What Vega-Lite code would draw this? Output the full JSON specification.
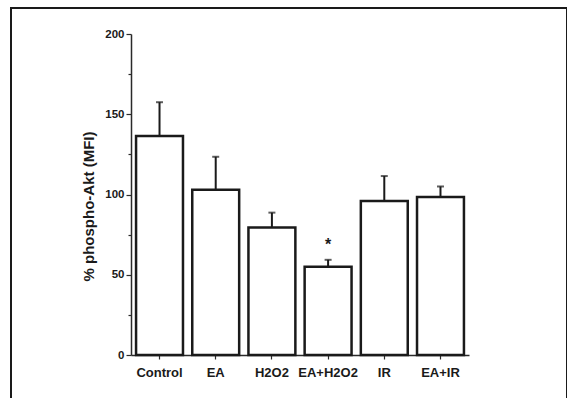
{
  "$schema": "https://vega.github.io/schema/vega-lite/v6.json",
  "autosize": {"type": "none"},
  "padding": {"left": 11, "top": 8, "right": 0, "bottom": -5},
  "width": 556,
  "height": 395,
  "background": "white",
  "config": {
    "view": {"stroke": "#1a1a1a", "strokeWidth": 2},
    "font": "Liberation Sans",
    "axis": {
      "grid": false,
      "domainColor": "#2a2a2a",
      "domainWidth": 1.5,
      "tickColor": "#2a2a2a",
      "tickWidth": 1.2,
      "labelColor": "#1a1a1a",
      "titleColor": "#1a1a1a",
      "labelFont": "Liberation Sans",
      "titleFont": "Liberation Sans",
      "labelFontWeight": "bold",
      "titleFontWeight": "bold"
    }
  },
  "data": {
    "values": [
      {"group": "Control", "value": 136.5, "upper": 157.5, "sig": ""},
      {"group": "EA", "value": 103, "upper": 123.5, "sig": ""},
      {"group": "H2O2", "value": 79.5, "upper": 88.7, "sig": ""},
      {"group": "EA+H2O2", "value": 55, "upper": 59.3, "sig": "*"},
      {"group": "IR", "value": 96, "upper": 111.5, "sig": ""},
      {"group": "EA+IR", "value": 98.5, "upper": 105, "sig": ""}
    ]
  },
  "encoding": {
    "x": {
      "field": "group",
      "type": "nominal",
      "sort": ["Control", "EA", "H2O2", "EA+H2O2", "IR", "EA+IR"],
      "scale": {"range": [120, 458], "paddingInner": 0.165, "paddingOuter": 0.09},
      "axis": {
        "orient": "bottom",
        "offset": -48,
        "title": null,
        "labelAngle": 0,
        "labelFontSize": 13,
        "tickSize": 4,
        "labelPadding": 7
      }
    }
  },
  "layer": [
    {
      "mark": {"type": "rule", "strokeWidth": 2, "color": "#1a1a1a"},
      "encoding": {
        "y": {
          "field": "value",
          "type": "quantitative",
          "scale": {"domain": [0, 200], "range": [347, 26], "nice": false},
          "axis": {
            "orient": "left",
            "offset": -120,
            "values": [25, 75, 125, 175],
            "labels": false,
            "domain": false,
            "tickSize": 3,
            "title": null
          }
        },
        "y2": {"field": "upper"}
      }
    },
    {
      "mark": {"type": "tick", "thickness": 2, "size": 7, "color": "#1a1a1a"},
      "encoding": {
        "y": {"field": "upper", "type": "quantitative", "axis": null}
      }
    },
    {
      "mark": {"type": "bar", "fill": "white", "stroke": "#1a1a1a", "strokeWidth": 2.5},
      "encoding": {
        "y": {
          "field": "value",
          "type": "quantitative",
          "axis": {
            "orient": "left",
            "offset": -120,
            "values": [0, 50, 100, 150, 200],
            "tickSize": 5,
            "labelFontSize": 11.5,
            "labelPadding": 2,
            "title": "% phospho-Akt (MFI)",
            "titleFontSize": 15,
            "titleX": -35,
            "titleY": 198
          }
        }
      }
    },
    {
      "mark": {"type": "text", "fontSize": 16, "fontWeight": "bold", "baseline": "alphabetic", "dy": -10, "color": "#1a1a1a"},
      "encoding": {
        "y": {"field": "upper", "type": "quantitative", "axis": null},
        "text": {"field": "sig"}
      }
    }
  ],
  "resolve": {"axis": {"y": "independent"}}
}
